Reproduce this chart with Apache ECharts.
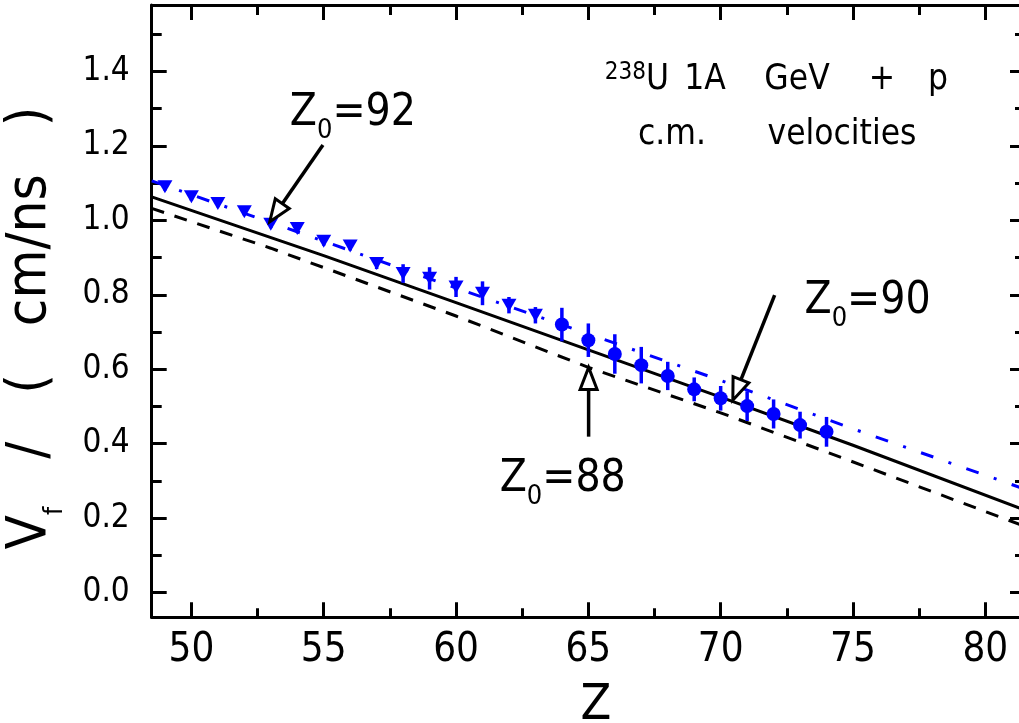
<!DOCTYPE html>
<html>
<head>
<meta charset="utf-8">
<script src="https://cdn.jsdelivr.net/npm/echarts@6.0.0/dist/echarts.min.js"></script>
<style>
html,body{margin:0;padding:0;background:#fff;}
#chart{width:1019px;height:723px;}
</style>
</head>
<body>
<div id="chart"></div>
<script>
// ---------------- data ----------------
const xMajorTicks = [50, 55, 60, 65, 70, 75, 80];
const xMinorTicks = [52.5, 57.5, 62.5, 67.5, 72.5, 77.5];
const yMajorTicks = [0.0, 0.2, 0.4, 0.6, 0.8, 1.0, 1.2, 1.4];
const yMinorTicks = [0.1, 0.3, 0.5, 0.7, 0.9, 1.1, 1.3, 1.5];

// measured: triangles (Z = 49..63)
const triZ   = [49, 50, 51, 52, 53, 54, 55, 56, 57, 58, 59, 60, 61, 62, 63];
const triV   = [1.090, 1.063, 1.045, 1.023, 0.989, 0.978, 0.944, 0.931, 0.884, 0.857, 0.844, 0.821, 0.804, 0.772, 0.745];
const triErr = [0.01, 0.01, 0.01, 0.01, 0.01, 0.01, 0.012, 0.012, 0.015, 0.025, 0.03, 0.027, 0.032, 0.022, 0.022];

// measured: circles (Z = 64..74)
const cirZ   = [64, 65, 66, 67, 68, 69, 70, 71, 72, 73, 74];
const cirV   = [0.720, 0.678, 0.641, 0.611, 0.582, 0.546, 0.522, 0.501, 0.480, 0.450, 0.432];
const cirErr = [0.045, 0.045, 0.053, 0.049, 0.038, 0.032, 0.033, 0.040, 0.039, 0.036, 0.040];

// calculations
const z0_88 = [[48.5, 1.032], [53, 0.925], [60, 0.743], [65, 0.605], [70, 0.483], [74, 0.378], [81.5, 0.178]];
const z0_90 = [[48.5, 1.063], [55, 0.905], [60, 0.779], [65, 0.652], [70, 0.525], [75, 0.396], [81.5, 0.222]];
const z0_92 = [[48.5, 1.106], [55, 0.944], [60, 0.818], [65, 0.695], [70, 0.570], [75, 0.440], [81.5, 0.278]];

// annotations (data coordinates)
const arrowFrom = [[54.97, 1.202], [72.04, 0.799], [65.01, 0.419]];
const arrowTo   = [[52.96, 0.996], [70.46, 0.517], [65.01, 0.605]];
const labelPos  = [[53.72, 1.287], [73.17, 0.783], [61.65, 0.305]];
const labelSub  = ['92', '90', '88'];

// ---------------- chart ----------------
const FONT = "'DejaVu Sans Condensed', 'Liberation Sans', sans-serif";
const BLUE = '#0000ff';

const chart = echarts.init(document.getElementById('chart'), null, {renderer: 'canvas'});

const X_MIN = 48.5, X_MAX = 81.5, Y_MIN = -0.066, Y_MAX = 1.578;

function xAx(pos, ticks, len, withLine, withLabel) {
  return {
    type: 'value', position: pos, min: X_MIN, max: X_MAX, gridIndex: 0,
    splitLine: {show: false},
    axisLine: {show: withLine, onZero: false, lineStyle: {color: '#000', width: 3}},
    axisTick: {show: true, inside: true, length: len, customValues: ticks, lineStyle: {color: '#000', width: 3}},
    axisLabel: withLabel ? {show: true, customValues: ticks, margin: 13, color: '#000', fontSize: 40, fontFamily: FONT,
      formatter: v => String(Math.round(v))} : {show: false}
  };
}
function yAx(pos, ticks, len, withLine, withLabel) {
  return {
    type: 'value', position: pos, min: Y_MIN, max: Y_MAX, gridIndex: 0,
    splitLine: {show: false},
    axisLine: {show: withLine, onZero: false, lineStyle: {color: '#000', width: 3}},
    axisTick: {show: true, inside: true, length: len, customValues: ticks, lineStyle: {color: '#000', width: 3}},
    axisLabel: withLabel ? {show: true, customValues: ticks, margin: 22, color: '#000', fontSize: 33, fontFamily: FONT,
      formatter: v => v.toFixed(1)} : {show: false}
  };
}

function errRender(zArr, vArr, eArr) {
  return function (params, api) {
    const i = params.dataIndex;
    const p0 = api.coord([zArr[i], vArr[i] - eArr[i]]);
    const p1 = api.coord([zArr[i], vArr[i] + eArr[i]]);
    return {type: 'line', shape: {x1: p0[0], y1: p0[1], x2: p1[0], y2: p1[1]},
      style: {stroke: BLUE, lineWidth: 3.5}};
  };
}

function annRender(params, api) {
  const i = params.dataIndex;
  const a = api.coord(arrowFrom[i]);
  const b = api.coord(arrowTo[i]);
  const dx = b[0] - a[0], dy = b[1] - a[1];
  const L = Math.sqrt(dx * dx + dy * dy);
  const ux = dx / L, uy = dy / L;
  const headLen = 22, halfW = 8.5;
  const bx = b[0] - ux * headLen, by = b[1] - uy * headLen;
  const px = -uy, py = ux;
  const lp = api.coord(labelPos[i]);
  return {
    type: 'group',
    children: [
      {type: 'line', shape: {x1: a[0], y1: a[1], x2: bx, y2: by}, style: {stroke: '#000', lineWidth: 3.5}},
      {type: 'polygon', shape: {points: [[b[0], b[1]], [bx + px * halfW, by + py * halfW], [bx - px * halfW, by - py * halfW]]},
        style: {fill: '#fff', stroke: '#000', lineWidth: 3, lineJoin: 'miter'}},
      {type: 'text', x: lp[0], y: lp[1] - 22, style: {
        text: '{m|Z}{s|0}{m|=' + labelSub[i] + '}', align: 'left', verticalAlign: 'top',
        rich: {
          m: {fontSize: 44, height: 44, lineHeight: 44, verticalAlign: 'top', fontFamily: FONT, fill: '#000'},
          s: {fontSize: 27, height: 80, lineHeight: 80, verticalAlign: 'top', fontFamily: FONT, fill: '#000'}
        }
      }}
    ]
  };
}

function word(txt, cx, top) {
  return {type: 'text', x: cx, y: top, style: {
    text: txt, align: 'center', verticalAlign: 'top', fontSize: 35, lineHeight: 40, fontFamily: FONT, fill: '#000'}};
}

const option = {
  animation: false,
  backgroundColor: '#fff',
  grid: {left: 151.7, top: 5, width: 873.3, height: 612.3, containLabel: false, outerBoundsMode: 'none'},
  xAxis: [
    xAx('bottom', xMajorTicks, 15, true, true),
    xAx('bottom', xMinorTicks, 9, false, false),
    xAx('top', xMajorTicks, 15, true, false),
    xAx('top', xMinorTicks, 10, false, false)
  ],
  yAxis: [
    yAx('left', yMajorTicks, 15, true, true),
    yAx('left', yMinorTicks, 10, false, false),
    yAx('right', yMajorTicks, 15, true, false),
    yAx('right', yMinorTicks, 10, false, false)
  ],
  graphic: [
    {type: 'text', x: 637, y: 60, style: {
      text: '{sup|238}{t|U}', align: 'center', verticalAlign: 'top',
      rich: {
        sup: {fontSize: 24, height: 25, lineHeight: 25, verticalAlign: 'top', fontFamily: FONT, fill: '#000'},
        t: {fontSize: 35, height: 40, lineHeight: 40, verticalAlign: 'top', fontFamily: FONT, fill: '#000'}
      }}},
    word('1A', 705, 60),
    word('GeV', 797, 60),
    word('+', 882, 60),
    word('p', 938, 60),
    word('c.m.', 672, 115),
    word('velocities', 842, 115),
    {type: 'text', x: 55, y: 328, rotation: Math.PI / 2, style: {
      text: '{m|V}{s|f}{m|   /   (   cm/ns   )}', align: 'center', verticalAlign: 'middle',
      rich: {
        m: {fontSize: 56, height: 60, lineHeight: 60, verticalAlign: 'top', fontFamily: FONT, fill: '#000'},
        s: {fontSize: 26, height: 110, lineHeight: 110, verticalAlign: 'top', fontFamily: FONT, fill: '#000'}
      }}},
    {type: 'text', x: 596, y: 681, style: {
      text: 'Z', align: 'center', verticalAlign: 'top', fontSize: 50, lineHeight: 50, fontFamily: FONT, fill: '#000'}}
  ],
  series: [
    {type: 'line', name: 'Z0=88', data: z0_88, showSymbol: false, symbol: 'none',
      lineStyle: {color: '#000', width: 3, type: [13, 11]}, z: 2},
    {type: 'line', name: 'Z0=90', data: z0_90, showSymbol: false, symbol: 'none',
      lineStyle: {color: '#000', width: 3, type: 'solid'}, z: 2},
    {type: 'line', name: 'Z0=92', data: z0_92, showSymbol: false, symbol: 'none',
      lineStyle: {color: BLUE, width: 3, type: [13, 16, 3, 16]}, z: 2},
    {type: 'custom', name: 'err-tri', data: triZ.map((z, i) => [z, triV[i]]), encode: {x: 0, y: 1},
      renderItem: errRender(triZ, triV, triErr), z: 3},
    {type: 'custom', name: 'err-cir', data: cirZ.map((z, i) => [z, cirV[i]]), encode: {x: 0, y: 1},
      renderItem: errRender(cirZ, cirV, cirErr), z: 3},
    {type: 'scatter', name: 'tri', data: triZ.map((z, i) => [z, triV[i]]), symbol: 'triangle', symbolRotate: 180,
      symbolSize: [15, 13], itemStyle: {color: BLUE, opacity: 1}, z: 4},
    {type: 'scatter', name: 'cir', data: cirZ.map((z, i) => [z, cirV[i]]), symbol: 'circle',
      symbolSize: 14, itemStyle: {color: BLUE, opacity: 1}, z: 4},
    {type: 'custom', name: 'annot', data: arrowFrom.map(p => p.slice()), encode: {x: 0, y: 1},
      renderItem: annRender, z: 5, clip: false}
  ]
};
chart.setOption(option);
</script>
</body>
</html>
